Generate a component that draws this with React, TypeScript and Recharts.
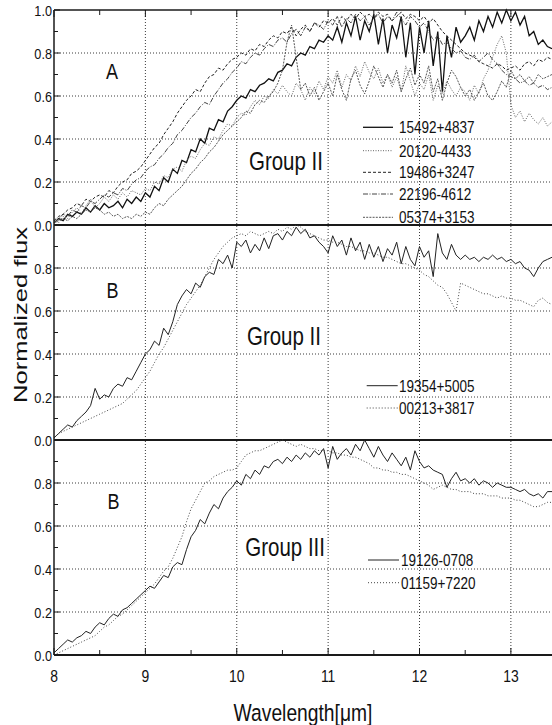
import React from 'react';
import { LineChart, Line, XAxis, YAxis, ReferenceLine, Label } from 'recharts';

const FONT = "'Liberation Sans', Arial, Helvetica, sans-serif";
const SQUEEZE = 0.82;

// wavelength grid (micron)
const WAVELENGTH = [
  8.00, 8.05, 8.10, 8.15, 8.20, 8.25, 8.30, 8.35, 8.40, 8.45,
  8.50, 8.55, 8.60, 8.65, 8.70, 8.75, 8.80, 8.85, 8.90, 8.95,
  9.00, 9.05, 9.10, 9.15, 9.20, 9.25, 9.30, 9.35, 9.40, 9.45,
  9.50, 9.55, 9.60, 9.65, 9.70, 9.75, 9.80, 9.85, 9.90, 9.95,
  10.00, 10.05, 10.10, 10.15, 10.20, 10.25, 10.30, 10.35, 10.40, 10.45,
  10.50, 10.55, 10.60, 10.65, 10.70, 10.75, 10.80, 10.85, 10.90, 10.95,
  11.00, 11.05, 11.10, 11.15, 11.20, 11.25, 11.30, 11.35, 11.40, 11.45,
  11.50, 11.55, 11.60, 11.65, 11.70, 11.75, 11.80, 11.85, 11.90, 11.95,
  12.00, 12.05, 12.10, 12.15, 12.20, 12.25, 12.30, 12.35, 12.40, 12.45,
  12.50, 12.55, 12.60, 12.65, 12.70, 12.75, 12.80, 12.85, 12.90, 12.95,
  13.00, 13.05, 13.10, 13.15, 13.20, 13.25, 13.30, 13.35, 13.40, 13.45,
];

const X_TICKS = [8, 8.5, 9, 9.5, 10, 10.5, 11, 11.5, 12, 12.5, 13];
const X_GRID = [9, 10, 11, 12, 13];
const Y_TICKS = [0, 0.1, 0.2, 0.3, 0.4, 0.5, 0.6, 0.7, 0.8, 0.9, 1.0];
const Y_GRID = [0.2, 0.4, 0.6, 0.8];

// ---- Panel A : Group II ----
const A_15492_4837 = [
  0.01, 0.03, 0.02, 0.05, 0.04, 0.06, 0.05, 0.08, 0.06, 0.09,
  0.07, 0.10, 0.08, 0.09, 0.11, 0.08, 0.12, 0.10, 0.13, 0.11,
  0.15, 0.13, 0.18, 0.16, 0.22, 0.20, 0.26, 0.24, 0.30, 0.29,
  0.35, 0.34, 0.40, 0.38, 0.45, 0.44, 0.49, 0.48, 0.53, 0.55,
  0.58, 0.60, 0.59, 0.63, 0.62, 0.65, 0.66, 0.68, 0.67, 0.71,
  0.72, 0.75, 0.74, 0.78, 0.80, 0.79, 0.83, 0.82, 0.86, 0.85,
  0.88, 0.86, 0.92, 0.85, 0.94, 0.88, 0.97, 0.86, 0.95, 0.90,
  0.98, 0.84, 0.96, 0.80, 0.93, 0.87, 0.97, 0.78, 0.94, 0.70,
  0.92, 0.80, 0.95, 0.74, 0.90, 0.62, 0.88, 0.78, 0.92, 0.85,
  0.88, 0.92, 0.86, 0.95, 0.90, 0.97, 0.92, 0.99, 0.94, 1.00,
  0.95, 0.99, 0.93, 0.97, 0.88, 0.90, 0.84, 0.86, 0.83, 0.82,
];
const A_20120_4433 = [
  0.02, 0.01, 0.04, 0.03, 0.06, 0.08, 0.05, 0.09, 0.12, 0.08,
  0.10, 0.13, 0.11, 0.14, 0.12, 0.15, 0.13, 0.16, 0.15, 0.14,
  0.17, 0.16, 0.20, 0.19, 0.23, 0.22, 0.26, 0.27, 0.25, 0.30,
  0.32, 0.31, 0.35, 0.38, 0.37, 0.41, 0.40, 0.44, 0.47, 0.46,
  0.50, 0.52, 0.51, 0.55, 0.58, 0.56, 0.60, 0.59, 0.63, 0.61,
  0.65, 0.62, 0.60, 0.66, 0.63, 0.58, 0.64, 0.61, 0.67, 0.63,
  0.69, 0.66, 0.72, 0.64, 0.70, 0.67, 0.74, 0.69, 0.76, 0.71,
  0.68, 0.73, 0.66, 0.70, 0.64, 0.69, 0.62, 0.74, 0.67, 0.60,
  0.66, 0.63, 0.70, 0.58, 0.65, 0.61, 0.67, 0.63, 0.60, 0.64,
  0.62, 0.58, 0.65, 0.61, 0.68, 0.72, 0.78, 0.84, 0.88, 0.80,
  0.56, 0.50, 0.53, 0.48, 0.52, 0.49, 0.47, 0.50, 0.46, 0.48,
];
const A_19486_3247 = [
  0.02, 0.04, 0.05, 0.07, 0.08, 0.10, 0.09, 0.12, 0.11, 0.13,
  0.14, 0.13, 0.16, 0.15, 0.18, 0.20, 0.21, 0.24, 0.25, 0.27,
  0.30, 0.33, 0.36, 0.38, 0.42, 0.45, 0.48, 0.52, 0.55, 0.58,
  0.60, 0.63, 0.62, 0.66, 0.69, 0.70, 0.73, 0.72, 0.75, 0.77,
  0.78, 0.80, 0.79, 0.82, 0.81, 0.84, 0.83, 0.86, 0.88, 0.87,
  0.90, 0.89, 0.92, 0.88, 0.91, 0.93, 0.90, 0.94, 0.92, 0.95,
  0.94, 0.96, 0.93, 0.97, 0.95, 0.98, 0.96, 0.99, 0.97, 0.98,
  0.96, 0.99, 0.97, 0.98, 0.95, 0.97, 0.99, 0.96, 0.98, 0.97,
  0.95, 0.97, 0.94, 0.96, 0.93, 0.90, 0.88, 0.86, 0.84, 0.82,
  0.80, 0.79, 0.78, 0.76, 0.75, 0.74, 0.73, 0.75, 0.74, 0.72,
  0.73, 0.74, 0.72, 0.75, 0.76, 0.74, 0.77, 0.76, 0.78, 0.77,
];
const A_22196_4612 = [
  0.01, 0.03, 0.05, 0.04, 0.07, 0.06, 0.09, 0.08, 0.11, 0.10,
  0.12, 0.14, 0.13, 0.15, 0.14, 0.17, 0.16, 0.19, 0.21, 0.22,
  0.25, 0.27, 0.28, 0.31, 0.33, 0.36, 0.38, 0.42, 0.44, 0.47,
  0.50, 0.52, 0.55, 0.57, 0.56, 0.60, 0.63, 0.66, 0.68, 0.71,
  0.73, 0.76, 0.75, 0.78, 0.80, 0.79, 0.82, 0.84, 0.83, 0.86,
  0.87, 0.85, 0.89, 0.91, 0.88, 0.92, 0.90, 0.94, 0.93, 0.91,
  0.95, 0.93, 0.97, 0.92, 0.96, 0.94, 0.98, 0.95, 0.97, 0.93,
  0.96, 0.98, 0.94, 0.97, 0.95, 0.99, 0.96, 0.93, 0.97, 0.95,
  0.92, 0.94, 0.90, 0.86, 0.88, 0.84, 0.85, 0.82, 0.80, 0.81,
  0.78, 0.77, 0.79, 0.76, 0.78, 0.80, 0.77, 0.75, 0.72, 0.70,
  0.69, 0.68, 0.66, 0.67, 0.65, 0.66, 0.64, 0.65, 0.63, 0.64,
];
const A_05374_3153 = [
  0.01, 0.02, 0.03, 0.02, 0.04, 0.03, 0.05, 0.07, 0.06, 0.08,
  0.07, 0.05, 0.06, 0.04, 0.05, 0.03, 0.04, 0.03, 0.05, 0.04,
  0.06, 0.05, 0.08, 0.10, 0.09, 0.12, 0.14, 0.16, 0.18, 0.21,
  0.24, 0.26, 0.29, 0.31, 0.34, 0.36, 0.39, 0.42, 0.44, 0.46,
  0.48, 0.50, 0.53, 0.52, 0.56, 0.58, 0.57, 0.60, 0.62, 0.66,
  0.72, 0.85, 0.93, 0.78, 0.63, 0.66, 0.60, 0.64, 0.58, 0.62,
  0.66, 0.60, 0.70, 0.63, 0.58, 0.68, 0.72, 0.65, 0.61, 0.67,
  0.74, 0.69, 0.64, 0.70, 0.66, 0.72, 0.62, 0.68, 0.73, 0.65,
  0.70, 0.66, 0.74, 0.62, 0.68, 0.58, 0.66, 0.72, 0.69, 0.64,
  0.60, 0.63, 0.58, 0.62, 0.66, 0.60, 0.58, 0.62, 0.67, 0.64,
  0.72, 0.68, 0.70, 0.67, 0.69, 0.66, 0.70, 0.68, 0.69, 0.70,
];

// ---- Panel B : Group II ----
const B_19354_5005 = [
  0.01, 0.03, 0.05, 0.07, 0.06, 0.09, 0.11, 0.13, 0.16, 0.24,
  0.19, 0.21, 0.20, 0.24, 0.26, 0.25, 0.29, 0.28, 0.32, 0.36,
  0.40, 0.42, 0.46, 0.44, 0.52, 0.49, 0.55, 0.63, 0.67, 0.70,
  0.68, 0.73, 0.71, 0.76, 0.78, 0.77, 0.84, 0.82, 0.86, 0.80,
  0.92, 0.90, 0.93, 0.87, 0.91, 0.88, 0.94, 0.89, 0.95, 0.96,
  0.93, 0.97, 0.95, 0.99, 0.96, 0.98, 0.94, 0.95, 0.92, 0.90,
  0.87, 0.95, 0.90, 0.93, 0.86, 0.94, 0.88, 0.92, 0.84, 0.91,
  0.85, 0.90, 0.83, 0.89, 0.86, 0.92, 0.82, 0.90, 0.84, 0.81,
  0.90, 0.85, 0.88, 0.76, 0.96, 0.87, 0.84, 0.91, 0.86, 0.84,
  0.86, 0.84, 0.85, 0.83, 0.85, 0.84, 0.86, 0.84, 0.85, 0.83,
  0.84, 0.82, 0.83, 0.80, 0.79, 0.76, 0.80, 0.83, 0.84, 0.85,
];
const B_00213_3817 = [
  0.01, 0.03, 0.04, 0.05, 0.06, 0.07, 0.08, 0.09, 0.10, 0.11,
  0.12, 0.13, 0.14, 0.15, 0.16, 0.17, 0.19, 0.21, 0.23, 0.26,
  0.29, 0.32, 0.36, 0.40, 0.43, 0.47, 0.51, 0.55, 0.59, 0.63,
  0.66, 0.69, 0.72, 0.76, 0.80, 0.84, 0.87, 0.90, 0.92, 0.94,
  0.95, 0.96, 0.95, 0.97, 0.96, 0.95, 0.96, 0.97, 0.96, 0.98,
  0.97, 0.99, 0.98, 1.00, 0.99, 0.97, 0.96, 0.95, 0.94, 0.93,
  0.93, 0.92, 0.92, 0.91, 0.90, 0.90, 0.89, 0.88, 0.88, 0.87,
  0.87, 0.86, 0.85, 0.85, 0.84, 0.83, 0.82, 0.82, 0.81, 0.80,
  0.79, 0.77, 0.76, 0.74, 0.72, 0.71, 0.68, 0.64, 0.60, 0.73,
  0.72, 0.71, 0.70, 0.69, 0.68, 0.68, 0.67, 0.66, 0.67, 0.66,
  0.66, 0.65, 0.65, 0.64, 0.63, 0.62, 0.65, 0.66, 0.64, 0.63,
];

// ---- Panel C : Group III ----
const C_19126_0708 = [
  0.01, 0.03, 0.05, 0.07, 0.06, 0.08, 0.09, 0.11, 0.10, 0.13,
  0.15, 0.14, 0.17, 0.19, 0.18, 0.21, 0.22, 0.24, 0.26, 0.28,
  0.30, 0.32, 0.31, 0.34, 0.37, 0.36, 0.41, 0.43, 0.42, 0.49,
  0.55, 0.58, 0.63, 0.61, 0.66, 0.70, 0.68, 0.73, 0.76, 0.78,
  0.81, 0.79, 0.84, 0.82, 0.86, 0.84, 0.88, 0.87, 0.90, 0.91,
  0.89, 0.92, 0.90, 0.93, 0.91, 0.94, 0.92, 0.95, 0.93, 0.96,
  0.87, 0.97, 0.91, 0.94, 0.96, 0.93, 0.98, 0.95, 1.00, 0.96,
  0.92, 0.97, 0.93, 0.90, 0.94, 0.91, 0.88, 0.92, 0.86, 0.95,
  0.90, 0.87, 0.88, 0.86, 0.85, 0.84, 0.78, 0.82, 0.85, 0.81,
  0.82, 0.80, 0.82, 0.79, 0.81, 0.80, 0.78, 0.80, 0.79, 0.78,
  0.78, 0.77, 0.76, 0.77, 0.75, 0.74, 0.75, 0.73, 0.76, 0.76,
];
const C_01159_7220 = [
  0.00, 0.01, 0.02, 0.03, 0.04, 0.05, 0.06, 0.07, 0.08, 0.09,
  0.11, 0.13, 0.14, 0.16, 0.18, 0.19, 0.21, 0.23, 0.25, 0.27,
  0.29, 0.31, 0.33, 0.36, 0.39, 0.41, 0.45, 0.50, 0.55, 0.62,
  0.68, 0.72, 0.76, 0.80, 0.81, 0.83, 0.84, 0.85, 0.86, 0.86,
  0.87, 0.90, 0.93, 0.94, 0.95, 0.95, 0.96, 0.97, 0.98, 0.99,
  1.00, 0.99, 0.98, 0.97, 0.98, 0.97, 0.96, 0.96, 0.95, 0.95,
  0.95, 0.94, 0.94, 0.93, 0.93, 0.92, 0.92, 0.91, 0.90, 0.89,
  0.87, 0.87, 0.86, 0.86, 0.85, 0.85, 0.84, 0.84, 0.83, 0.82,
  0.81, 0.80, 0.79, 0.77, 0.78, 0.79, 0.78, 0.77, 0.77, 0.76,
  0.76, 0.76, 0.75, 0.75, 0.75, 0.74, 0.74, 0.74, 0.73, 0.73,
  0.73, 0.72, 0.72, 0.71, 0.70, 0.69, 0.69, 0.70, 0.71, 0.71,
];

type Series = { key: string; name: string; values: number[]; stroke: string; dash?: string; width: number };

const SERIES_A: Series[] = [
  { key: 'a1', name: '15492+4837', values: A_15492_4837, stroke: '#111', width: 1.3 },
  { key: 'a2', name: '20120-4433', values: A_20120_4433, stroke: '#666', dash: '1 1.5', width: 1 },
  { key: 'a3', name: '19486+3247', values: A_19486_3247, stroke: '#222', dash: '3 2', width: 1 },
  { key: 'a4', name: '22196-4612', values: A_22196_4612, stroke: '#444', dash: '5 1.5 1 1.5', width: 1 },
  { key: 'a5', name: '05374+3153', values: A_05374_3153, stroke: '#555', dash: '2 1.2', width: 1 },
];
const SERIES_B: Series[] = [
  { key: 'b1', name: '19354+5005', values: B_19354_5005, stroke: '#222', width: 1 },
  { key: 'b2', name: '00213+3817', values: B_00213_3817, stroke: '#444', dash: '1 2', width: 1 },
];
const SERIES_C: Series[] = [
  { key: 'c1', name: '19126-0708', values: C_19126_0708, stroke: '#222', width: 1 },
  { key: 'c2', name: '01159+7220', values: C_01159_7220, stroke: '#444', dash: '1 2', width: 1 },
];

const buildRows = (series: Series[]) =>
  WAVELENGTH.map((x, i) => {
    const row: Record<string, number> = { x };
    series.forEach((s) => {
      row[s.key] = s.values[i];
    });
    return row;
  });

const AXIS = '#1a1a1a';
const GRID = '#3a3a3a';

// condensed (Helvetica-Condensed look) text: regular font squeezed horizontally
function NText({
  x,
  y,
  size,
  anchor = 'start',
  children,
}: {
  x: number;
  y: number;
  size: number;
  anchor?: 'start' | 'middle' | 'end';
  children: React.ReactNode;
}) {
  return (
    <text
      transform={`translate(${x},${y}) scale(${SQUEEZE},1)`}
      x={0}
      y={0}
      textAnchor={anchor}
      fontSize={size}
      fontFamily={FONT}
      fill="#111"
    >
      {children}
    </text>
  );
}

const makeYTick = (maxLabel: number) => (props: any) => {
  const { x, y, payload } = props;
  const v = payload.value as number;
  const major = Math.round(v * 10) % 2 === 0;
  return (
    <g>
      <line x1={x} x2={x + (major ? 6 : 4)} y1={y} y2={y} stroke={AXIS} strokeWidth={1} />
      {major && v <= maxLabel + 1e-9 ? (
        <NText x={x - 2} y={y + 5.5} size={15.5} anchor="end">
          {v.toFixed(1)}
        </NText>
      ) : null}
    </g>
  );
};

const TopXTick = (props: any) => {
  const { x, y, payload } = props;
  const major = Number.isInteger(payload.value);
  return <line x1={x} x2={x} y1={y} y2={y + (major ? 7 : 5)} stroke={AXIS} strokeWidth={1} />;
};

const BottomXTick = (props: any) => {
  const { x, y, payload } = props;
  const major = Number.isInteger(payload.value);
  return (
    <g>
      <line x1={x} x2={x} y1={y} y2={y - (major ? 7 : 5)} stroke={AXIS} strokeWidth={1} />
      {major ? (
        <NText x={x} y={y + 27} size={17} anchor="middle">
          {payload.value}
        </NText>
      ) : null}
    </g>
  );
};

type PanelProps = {
  top: number;
  height: number;
  margin: { top: number; right: number; bottom: number; left: number };
  series: Series[];
  xMode: 'top' | 'none' | 'bottom';
  maxYLabel: number;
  separator: boolean;
};

function Panel({ top, height, margin, series, xMode, maxYLabel, separator }: PanelProps) {
  const rows = buildRows(series);
  return (
    <div style={{ position: 'absolute', left: 0, top }}>
      <LineChart width={552} height={height} data={rows} margin={margin}>
        {xMode === 'none' ? (
          <XAxis dataKey="x" type="number" domain={[8, 13.45]} ticks={X_TICKS} hide />
        ) : (
          <XAxis
            dataKey="x"
            type="number"
            domain={[8, 13.45]}
            ticks={X_TICKS}
            interval={0}
            orientation={xMode}
            height={xMode === 'top' ? 10 : 70}
            tickSize={0}
            tickMargin={0}
            tickLine={false}
            axisLine={{ stroke: AXIS, strokeWidth: xMode === 'top' ? 1.5 : 2 }}
            tick={xMode === 'top' ? TopXTick : BottomXTick}
          >
            {xMode === 'bottom' ? (
              <Label
                content={(p: any) => {
                  const vb = p.viewBox;
                  return (
                    <NText x={vb.x + vb.width / 2} y={vb.y + 66} size={23.5} anchor="middle">
                      Wavelength[μm]
                    </NText>
                  );
                }}
              />
            ) : null}
          </XAxis>
        )}
        <YAxis
          type="number"
          domain={[0, 1]}
          ticks={Y_TICKS}
          interval={0}
          width={54}
          tickSize={0}
          tickMargin={0}
          tickLine={false}
          axisLine={{ stroke: AXIS, strokeWidth: 1.5 }}
          tick={makeYTick(maxYLabel)}
        />
        {X_GRID.map((g) => (
          <ReferenceLine key={'vx' + g} x={g} stroke={GRID} strokeDasharray="1 2" strokeWidth={1} />
        ))}
        {Y_GRID.map((g) => (
          <ReferenceLine key={'hy' + g} y={g} stroke={GRID} strokeDasharray="1 2" strokeWidth={1} />
        ))}
        {series.map((s) => (
          <Line
            key={s.key}
            dataKey={s.key}
            name={s.name}
            type="linear"
            stroke={s.stroke}
            strokeWidth={s.width}
            strokeDasharray={s.dash}
            dot={false}
            activeDot={false}
            isAnimationActive={false}
          />
        ))}
        {separator ? <ReferenceLine y={0} stroke={AXIS} strokeWidth={2} /> : null}
      </LineChart>
    </div>
  );
}

const legendRows = (series: Series[], x1: number, x2: number, tx: number, baselines: number[]) =>
  series.map((s, i) => (
    <g key={s.key}>
      <line
        x1={x1}
        x2={x2}
        y1={baselines[i] - 6}
        y2={baselines[i] - 6}
        stroke={s.stroke}
        strokeWidth={s.width}
        strokeDasharray={s.dash}
      />
      <NText x={tx} y={baselines[i]} size={16.5}>
        {s.name}
      </NText>
    </g>
  ));

export default function App() {
  return (
    <div style={{ position: 'absolute', left: 0, top: 0, width: 552, height: 725, background: '#fff', overflow: 'hidden' }}>
      <Panel
        top={0}
        height={235}
        margin={{ top: 0, right: 0, bottom: 10, left: 0 }}
        series={SERIES_A}
        xMode="top"
        maxYLabel={1.0}
        separator
      />
      <Panel
        top={215}
        height={235}
        margin={{ top: 10, right: 0, bottom: 10, left: 0 }}
        series={SERIES_B}
        xMode="none"
        maxYLabel={0.8}
        separator
      />
      <Panel
        top={430}
        height={295}
        margin={{ top: 10, right: 0, bottom: 0, left: 0 }}
        series={SERIES_C}
        xMode="bottom"
        maxYLabel={0.8}
        separator={false}
      />
      <svg width={552} height={725} style={{ position: 'absolute', left: 0, top: 0, pointerEvents: 'none' }}>
        <NText x={112} y={79} size={22} anchor="middle">A</NText>
        <NText x={112.5} y={298} size={22} anchor="middle">B</NText>
        <NText x={113.5} y={509} size={22} anchor="middle">B</NText>
        <NText x={323} y={170} size={25} anchor="end">Group II</NText>
        <NText x={321} y={345} size={25} anchor="end">Group II</NText>
        <NText x={325} y={556} size={25} anchor="end">Group III</NText>
        {legendRows(SERIES_A, 363, 393, 399, [133.3, 156.7, 178.3, 200, 223.3])}
        {legendRows(SERIES_B, 366.7, 397.7, 399, [391.7, 414])}
        {legendRows(SERIES_C, 368, 399, 401, [566, 588.7])}
        <text
          transform="translate(27,315) rotate(-90)"
          textAnchor="middle"
          fontSize={18.5}
          fontFamily={FONT}
          textLength={176}
          lengthAdjust="spacingAndGlyphs"
          fill="#111"
        >
          Normalized flux
        </text>
      </svg>
    </div>
  );
}
